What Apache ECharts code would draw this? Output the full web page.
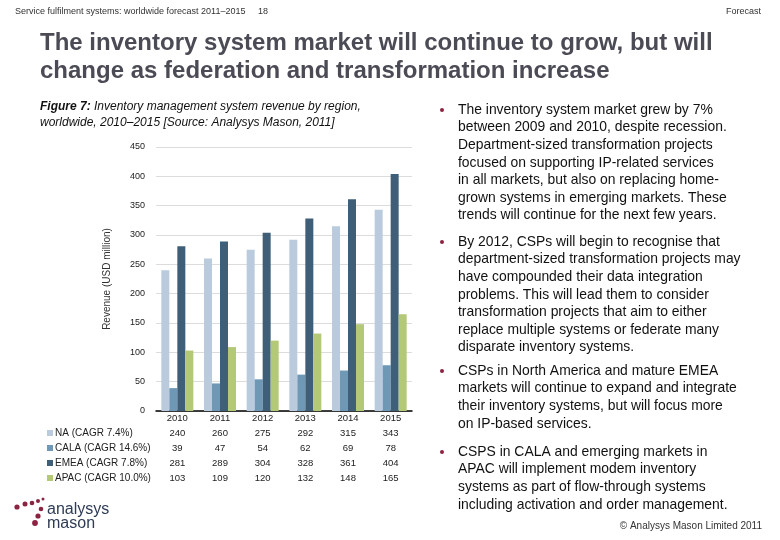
<!DOCTYPE html>
<html><head><meta charset="utf-8">
<script src="https://cdn.jsdelivr.net/npm/echarts@6/dist/echarts.min.js"></script>
<style>html,body{margin:0;padding:0;background:#fff}#c{width:780px;height:540px}</style>
</head><body><div id="c"></div>
<script>
const years = ['2010','2011','2012','2013','2014','2015'];
const seriesNames = ['NA (CAGR 7.4%)','CALA (CAGR 14.6%)','EMEA (CAGR 7.8%)','APAC (CAGR 10.0%)'];
const NA   = [240,260,275,292,315,343];
const CALA = [39,47,54,62,69,78];
const EMEA = [281,289,304,328,361,404];
const APAC = [103,109,120,132,148,165];
const yTicks = [0,50,100,150,200,250,300,350,400,450];
const colors = ['#b9cbdc','#6f98b6','#3f5e77','#b3c977'];
const allData = [NA,CALA,EMEA,APAC];

const bullets = [
  {y:110, lines:["The inventory system market grew by 7%","between 2009 and 2010, despite recession.","Department-sized transformation projects","focused on supporting IP-related services","in all markets, but also on replacing home-","grown systems in emerging markets. These","trends will continue for the next few years."]},
  {y:242, lines:["By 2012, CSPs will begin to recognise that","department-sized transformation projects may","have compounded their data integration","problems. This will lead them to consider","transformation projects that aim to either","replace multiple systems or federate many","disparate inventory systems."]},
  {y:371, lines:["CSPs in North America and mature EMEA","markets will continue to expand and integrate","their inventory systems, but will focus more","on IP-based services."]},
  {y:452, lines:["CSPS in CALA and emerging markets in","APAC will implement modem inventory","systems as part of flow-through systems","including activation and order management."]}
];
const FF = '"Liberation Sans", Arial, sans-serif';
const graphics = [
  {type:'text', left:15, top:7, style:{text:'Service fulfilment systems: worldwide forecast 2011\u20132015', font:'9px '+FF, fill:'#333'}},
  {type:'text', left:258, top:7, style:{text:'18', font:'9px '+FF, fill:'#333'}},
  {type:'text', right:19, top:7, style:{text:'Forecast', font:'9px '+FF, fill:'#333'}},
  {type:'text', left:40, top:29, style:{text:'The inventory system market will continue to grow, but will\nchange as federation and transformation increase', font:'bold 24px '+FF, lineHeight:28, fill:'#4b4b55'}},
  {type:'text', left:40, top:99, style:{rich:{b:{font:'italic bold 12px '+FF, fill:'#111'}, n:{font:'italic 12px '+FF, fill:'#111'}}, text:'{b|Figure 7:} {n|Inventory management system revenue by region,}\n{n|worldwide, 2010\u20132015 [Source: Analysys Mason, 2011]}', lineHeight:16}},
  {type:'text', right:18, top:521, style:{text:'\u00a9 Analysys Mason Limited 2011', font:'10px '+FF, fill:'#333'}},
  {type:'text', left:47, top:502, style:{text:'analysys\nmason', font:'16px '+FF, lineHeight:14, fill:'#2d3b55'}}
];
bullets.forEach(b=>{
  graphics.push({type:'circle', shape:{cx:442, cy:b.y, r:2}, style:{fill:'#8c2343'}});
  graphics.push({type:'text', left:458, top:b.y-8.8, style:{text:b.lines.join('\n'), font:'13.9px '+FF, lineHeight:17.6, fill:'#111'}});
});
// logo dots
[[17,507,2.6],[25,504,2.5],[32,503,2.3],[38,501,2],[43,499,1.5],[41,509,2.3],[38,516,2.6],[35,523,2.9]].forEach(d=>{
  graphics.push({type:'circle', shape:{cx:d[0], cy:d[1], r:d[2]}, style:{fill:'#8c2343'}});
});

const chart = echarts.init(document.getElementById('c'));
chart.setOption({
  animation:false,
  textStyle:{fontFamily:FF},
  grid:{left:156, right:368, top:147, bottom:129, containLabel:false},
  legend:{orient:'vertical', left:47, top:425.5, padding:0, itemWidth:6, itemHeight:6, itemGap:0, icon:'rect',
    data:seriesNames, textStyle:{fontSize:10, color:'#222', lineHeight:15, padding:[0,0,0,-3]}, selectedMode:false},
  xAxis:{type:'category', data:years,
    axisLine:{lineStyle:{color:'#000', width:1.5}}, axisTick:{show:false},
    axisLabel:{margin:0, interval:0, formatter:(v,i)=>{
      return [v, ...allData.map(a=>a[i])].map(s=>'{t|'+s+'}').join('\n');
    }, rich:{t:{fontSize:9.5, color:'#222', lineHeight:15}}}},
  yAxis:{type:'value', min:0, max:450, interval:50,
    name:'Revenue (USD million)', nameLocation:'middle', nameGap:44, nameRotate:90,
    nameTextStyle:{fontSize:10, color:'#333'},
    axisLine:{show:false}, axisTick:{show:false},
    axisLabel:{fontSize:9, color:'#222', margin:11, formatter:v=>yTicks.includes(v)?String(v):''},
    splitLine:{lineStyle:{color:'#dcdcdc'}}},
  series: seriesNames.map((n,k)=>({name:n, type:'bar', data:allData[k], barWidth:8, barGap:'0%',
    itemStyle:{color:colors[k]}})),
  graphic: graphics
});
</script></body></html>
